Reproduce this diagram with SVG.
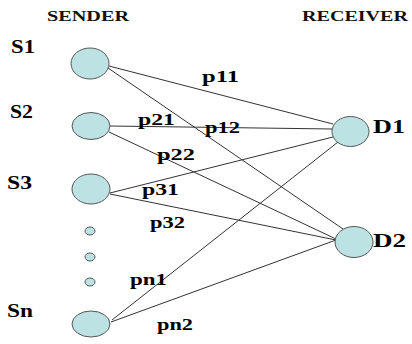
<svg xmlns="http://www.w3.org/2000/svg" width="412" height="344" viewBox="0 0 412 344">
<style>
.n{fill:#bce2e4;stroke:#555;stroke-width:1}
.c line{stroke:#333;stroke-width:1}
.h{font-family:"Liberation Serif","Times New Roman",serif;font-weight:bold;font-size:14px;fill:#111}
.l{font-family:"Liberation Serif","Times New Roman",serif;font-weight:bold;font-size:18px;fill:#000}
.p{font-family:"Liberation Serif","Times New Roman",serif;font-weight:bold;font-size:17px;fill:#000}
</style>
<rect width="412" height="344" fill="#fff"/>
<g id="connectors" class="c">
<line x1="109" y1="66" x2="333" y2="124"/>
<line x1="108" y1="68" x2="343" y2="229"/>
<line x1="110" y1="126" x2="333" y2="129"/>
<line x1="109" y1="132" x2="336" y2="239"/>
<line x1="110" y1="193" x2="333" y2="137"/>
<line x1="110" y1="194" x2="336" y2="240"/>
<line x1="112" y1="320" x2="338" y2="142"/>
<line x1="111" y1="322" x2="336" y2="240"/>
</g>
<g id="header-sender"><text class="h" x="47" y="21" textLength="82" lengthAdjust="spacingAndGlyphs">SENDER</text></g>
<g id="header-receiver"><text class="h" x="302" y="21" textLength="106" lengthAdjust="spacingAndGlyphs">RECEIVER</text></g>
<g id="S1"><ellipse class="n" cx="90" cy="63.5" rx="19" ry="15.5"/><text class="l" x="11" y="53" textLength="24" lengthAdjust="spacingAndGlyphs">S1</text></g>
<g id="S2"><ellipse class="n" cx="91" cy="126" rx="19" ry="13.5"/><text class="l" x="10" y="118" textLength="23" lengthAdjust="spacingAndGlyphs">S2</text></g>
<g id="S3"><ellipse class="n" cx="91" cy="189" rx="19" ry="15"/><text class="l" x="7" y="189" textLength="25" lengthAdjust="spacingAndGlyphs">S3</text></g>
<g id="dot1"><ellipse class="n" cx="90" cy="231" rx="5" ry="4"/></g>
<g id="dot2"><ellipse class="n" cx="90" cy="257" rx="5" ry="4"/></g>
<g id="dot3"><ellipse class="n" cx="90" cy="282" rx="5" ry="4"/></g>
<g id="Sn"><ellipse class="n" cx="91" cy="324" rx="19" ry="13"/><text class="l" x="7" y="317" textLength="26" lengthAdjust="spacingAndGlyphs">Sn</text></g>
<g id="D1"><ellipse class="n" cx="350.5" cy="131.5" rx="18.5" ry="15"/><text class="l" x="373" y="133" textLength="32" lengthAdjust="spacingAndGlyphs">D1</text></g>
<g id="D2"><ellipse class="n" cx="354" cy="242" rx="19" ry="15.5"/><text class="l" x="373" y="247" textLength="33" lengthAdjust="spacingAndGlyphs">D2</text></g>
<g id="labels">
<text class="p" x="202" y="82" textLength="37" lengthAdjust="spacingAndGlyphs">p11</text>
<text class="p" x="138" y="125" textLength="37" lengthAdjust="spacingAndGlyphs">p21</text>
<text class="p" x="205" y="133" textLength="35" lengthAdjust="spacingAndGlyphs">p12</text>
<text class="p" x="157" y="160" textLength="38" lengthAdjust="spacingAndGlyphs">p22</text>
<text class="p" x="142" y="195" textLength="37" lengthAdjust="spacingAndGlyphs">p31</text>
<text class="p" x="150" y="228" textLength="35" lengthAdjust="spacingAndGlyphs">p32</text>
<text class="p" x="130" y="285" textLength="37" lengthAdjust="spacingAndGlyphs">pn1</text>
<text class="p" x="157" y="330" textLength="36" lengthAdjust="spacingAndGlyphs">pn2</text>
</g>
</svg>
